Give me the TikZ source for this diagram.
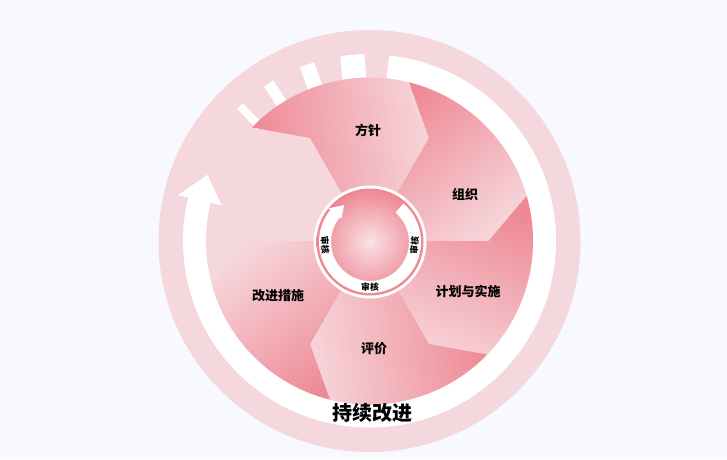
\documentclass[tikz,border=0pt]{standalone}
\usepackage{fontspec}
\newfontfamily\cjk{Noto Sans CJK SC}
\definecolor{bg}{RGB}{248,249,254}
\definecolor{ring}{RGB}{244,216,221}
\definecolor{pdark}{RGB}{238,136,148}
\definecolor{plight}{RGB}{246,212,217}
\definecolor{sphc}{RGB}{249,226,230}
\definecolor{sphe}{RGB}{238,134,146}
\begin{document}
\begin{tikzpicture}[x=1pt,y=1pt,
  lbl/.style={font=\cjk\bfseries\fontsize{13}{13}\selectfont, text=black, inner sep=0pt},
  biglbl/.style={font=\cjk\bfseries\fontsize{20}{20}\selectfont, text=black, inner sep=0pt},
  small/.style={font=\cjk\bfseries\fontsize{8.8}{8.8}\selectfont, text=black, inner sep=0pt}]
\useasboundingbox (0,0) rectangle (727,-459);
\fill[bg] (0,0) rectangle (727,-459);
\coordinate (C) at (369.5,-241);
\begin{scope}[shift={(C)}]
  \fill[ring] (0,0) circle (211);
  \foreach \a/\w in {95.3/24,109.5/15,122.6/11,133.8/8}
    \fill[white,rotate=\a-90] (-\w/2,158) rectangle (\w/2,187);
  \fill[white] (84:186.5) arc[start angle=84,end angle=-193.5,radius=186.5]
    -- (-193.5:197) -- (-202.2:175) -- (-193.5:152) -- (-193.5:163.5)
    arc[start angle=-193.5,end angle=84,radius=163.5] -- cycle;
  \foreach \t in {60,0,-60,-120,180} {
    \pgfmathsetmacro\s{\t-142}
    \shade[top color=plight,bottom color=pdark,shading angle=\s]
      (0,0) -- (\t:119) -- ({\t+16}:163.5)
      arc[start angle={\t+16},end angle={\t+76},radius=163.5]
      -- ({\t+60}:119) -- cycle;
  }
\end{scope}
\begin{scope}[shift={(370,-242)}]
  \fill[white] (0,0) circle (56.5);
  \shade[inner color=sphc, outer color=sphe] (0,0) circle (53.5);
  \fill[white] (49:51) arc[start angle=49,end angle=-219,radius=51]
    -- (-219:53.5) -- (-235:45) -- (-219:37) -- (-219:39)
    arc[start angle=-219,end angle=49,radius=39] -- cycle;
  \node[small,rotate=-86] (a1) at (184:45) {审核};
  \node[small,rotate=86] (a2) at (-4:44.5) {审核};
  \node[small] (a3) at (-90:45.5) {审核};
\end{scope}
\node[lbl] (fz) at (368,-130.5) {方针};
\node[lbl] (zz) at (465,-195) {组织};
\node[lbl] (jh) at (468,-291) {计划与实施};
\node[lbl] (pj) at (374,-348.5) {评价};
\node[lbl] (gj) at (278,-296) {改进措施};
\node[biglbl] (cx) at (372,-413) {持续改进};
\end{tikzpicture}
\end{document}
